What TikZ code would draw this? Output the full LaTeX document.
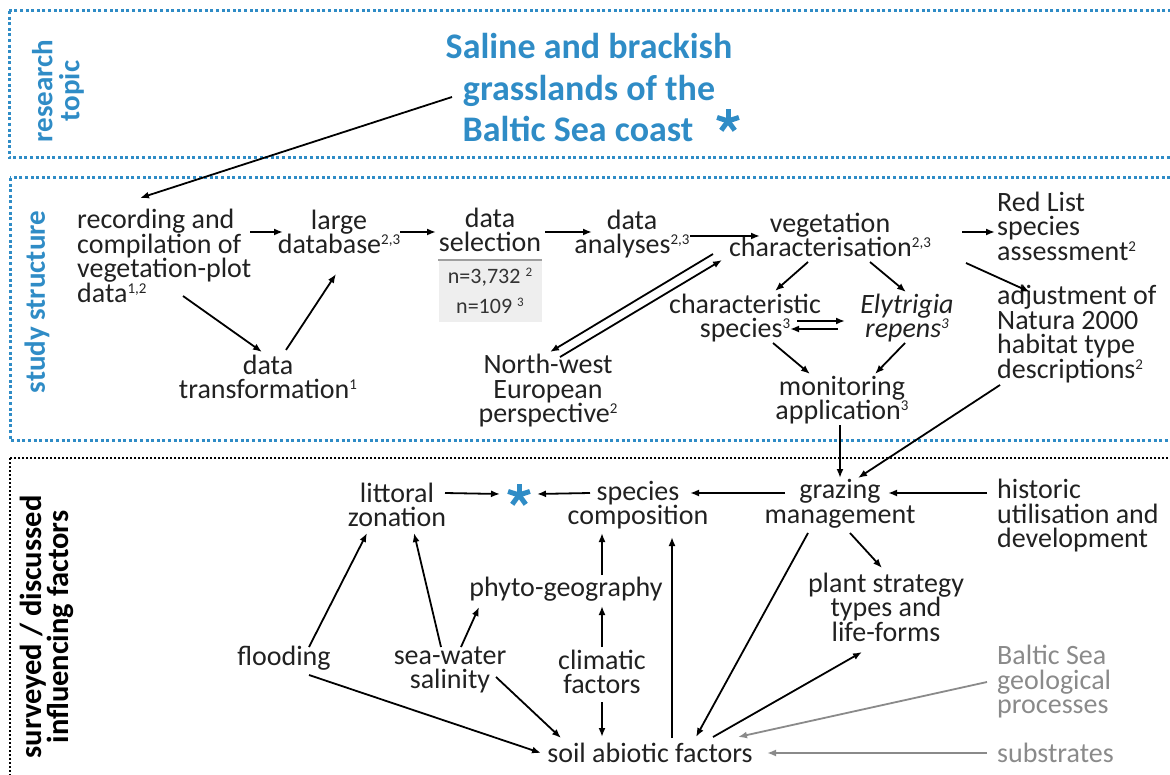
\documentclass[tikz,border=0pt]{standalone}
\usepackage{fontspec}
\setmainfont{Carlito}
\usetikzlibrary{arrows.meta,calc}
\definecolor{tblue}{HTML}{2F8CC6}
\definecolor{tgray}{HTML}{8A8A8A}
\definecolor{boxgray}{HTML}{EEEEEE}
\newcommand\sps[1]{\raisebox{9pt}{\fontsize{15}{15}\selectfont #1}}
\newcommand\spn[1]{\raisebox{7pt}{\fontsize{13}{13}\selectfont #1}}
\begin{document}
\begin{tikzpicture}[x=1pt,y=-1pt,
  txt/.style={font=\fontsize{28}{24.5}\selectfont, align=center, inner sep=0pt, text=black!87},
  ltxt/.style={txt, align=left, anchor=west},
  arr/.style={-{Latex[length=9pt,width=7pt]}, line width=1.8pt},
  garr/.style={arr, draw=tgray},
  bluedot/.style={draw=tblue, line width=3pt, dash pattern=on 3pt off 2.6pt},
  blackdot/.style={draw=black, line width=2pt, dash pattern=on 2pt off 2pt},
  sidelbl/.style={rotate=90, align=center, inner sep=0pt, font=\bfseries\fontsize{29}{27}\selectfont},
  astnode/.style={circle, minimum size=24pt, inner sep=0pt},
  astarm/.style={draw=tblue, line width=5pt}]
\useasboundingbox (0,0) rectangle (1170,775);

% section frames
\draw[bluedot] (9,11) rectangle (1185,158);
\draw[bluedot] (10,178) rectangle (1185,440);
\draw[blackdot] (10,458) rectangle (1185,800);

% side labels
\node[sidelbl, text=tblue] (lrt) at (58,91) {research\\topic};
\node[sidelbl, text=tblue] (lss) at (37,302) {study structure};
\node[sidelbl, text=black, font=\bfseries\fontsize{30.5}{27}\selectfont] (lsf) at (47,627) {surveyed / discussed\\influencing factors};

% title
\node[inner sep=0pt, align=center, text=tblue, font=\bfseries\fontsize{36}{41.5}\selectfont] (T) at (589,88) {Saline and brackish\\grasslands of the\\Baltic Sea coast\hspace*{22pt}};
\node[astnode] (tast) at (728,121) {};
\foreach \a in {-90,-18,54,126,198} \draw[astarm] (tast.center) -- ++(\a:11.5);

% study structure
\node[ltxt] (rec) at (77,256) {recording and\\compilation of\\vegetation-plot\\data\sps{1,2}};
\node[txt] (db) at (339,232) {large\\database\sps{2,3}};
\node[txt] (sel) at (490,230) {data\\selection};
\node[fill=boxgray, minimum width=103pt, minimum height=62pt, inner sep=0pt, align=center, text=black!80, font=\fontsize{22}{30}\selectfont] (nbox) at (490,291) {n=3,732 \spn{2}\\n=109 \spn{3}};
\draw[draw=gray!75, line width=2pt] (nbox.north west) -- (nbox.north east);
\node[txt] (ana) at (632,234) {data\\analyses\sps{2,3}};
\node[txt] (veg) at (830,235) {vegetation\\characterisation\sps{2,3}};
\node[ltxt] (red) at (997,226) {Red List\\species\\assessment\sps{2}};
\node[ltxt] (adj) at (997,334) {adjustment of\\Natura 2000\\habitat type\\descriptions\sps{2}};
\node[txt] (cs) at (745,318) {characteristic\\species\sps{3}};
\node[txt] (ely) at (907,318) {\itshape Elytrigia\\\itshape repens\sps{3}};
\node[txt] (mon) at (842,400) {monitoring\\application\sps{3}};
\node[txt] (nw) at (548,391) {North-west\\European\\perspective\sps{2}};
\node[txt] (tr) at (268,377) {data\\transformation\sps{1}};

\draw[arr] ([shift={(-137,9)}]T.center) -- ([shift={(63,-58)}]rec.west);
\draw[arr] ([shift={(173,-24)}]rec.west) -- ([shift={(-56,0)}]db.center);
\draw[arr] ([shift={(106,40)}]rec.west) -- ([shift={(-6,-25)}]tr.center);
\draw[arr] ([shift={(18,-27)}]tr.center) -- ([shift={(-3,42)}]db.center);
\draw[arr] ([shift={(61,0)}]db.center) -- ([shift={(-54,2)}]sel.center);
\draw[arr] ([shift={(55,2)}]sel.center) -- ([shift={(-40,-2)}]ana.center);
\draw[arr] ([shift={(58,2)}]ana.center) -- ([shift={(-70,1)}]veg.center);
\draw[arr] ([shift={(132,-3)}]veg.center) -- ([shift={(-2,6)}]red.west);
\draw[arr] ([shift={(136,28)}]veg.center) -- ([shift={(33,-42)}]adj.west);
\draw[arr] ([shift={(-22,27)}]veg.center) -- ([shift={(30,-27)}]cs.center);
\draw[arr] ([shift={(40,27)}]veg.center) -- ([shift={(-1,-26)}]ely.center);
\draw[arr] ([shift={(52,3)}]cs.center) -- ([shift={(-62,3)}]ely.center);
\draw[arr] ([shift={(-69,11)}]ely.center) -- ([shift={(45,11)}]cs.center);
\draw[arr] ([shift={(28,25)}]cs.center) -- ([shift={(-32,-26)}]mon.center);
\draw[arr] ([shift={(-2,25)}]ely.center) -- ([shift={(33,-26)}]mon.center);
\draw[arr] ([shift={(-117,19)}]veg.center) -- ([shift={(2,-39)}]nw.center);
\draw[arr] ([shift={(12,-34)}]nw.center) -- ([shift={(-108,25)}]veg.center);

% influencing factors
\node[txt] (lit) at (397,505) {littoral\\zonation};
\node[astnode] (star) at (519,495) {};
\foreach \a in {-90,-18,54,126,198} \draw[astarm] (star.center) -- ++(\a:11.5);
\node[txt] (sp) at (638,505) {species\\composition};
\node[txt] (gr) at (840,504) {grazing\\management};
\node[ltxt] (hist) at (997,516) {historic\\utilisation and\\development};
\node[txt] (phy) at (566,589) {phyto-geography};
\node[txt] (ps) at (886,607) {plant strategy\\types and\\life-forms};
\node[txt] (fl) at (284,658) {flooding};
\node[txt] (sw) at (450,670) {sea-water\\salinity};
\node[txt] (cl) at (602,672) {climatic\\factors};
\node[txt] (soil) at (650,753) {soil abiotic factors};
\node[ltxt, text=tgray] (bsg) at (997,682) {Baltic Sea\\geological\\processes};
\node[ltxt, text=tgray] (sub) at (997,753) {substrates};

\draw[arr] ([shift={(-2,25)}]mon.center) -- ([shift={(0,-26)}]gr.center);
\draw[arr] ([shift={(3,51)}]adj.west) -- ([shift={(18,-26)}]gr.center);
\draw[arr] ([shift={(-10,-23)}]hist.west) -- ([shift={(48,-11)}]gr.center);
\draw[arr] ([shift={(-55,-11)}]gr.center) -- ([shift={(52,-12)}]sp.center);
\draw[arr] ([shift={(-48,-12)}]sp.center) -- ([shift={(18,-1)}]star.center);
\draw[arr] ([shift={(48,-12)}]lit.center) -- ([shift={(-19,-1)}]star.center);
\draw[arr] ([shift={(36,-14)}]phy.center) -- ([shift={(-36,28)}]sp.center);
\draw[arr] ([shift={(0,-25)}]cl.center) -- ([shift={(36,17)}]phy.center);
\draw[arr] ([shift={(0,30)}]cl.center) -- ([shift={(-48,-16)}]soil.center);
\draw[arr] ([shift={(46,7)}]sw.center) -- ([shift={(-89,-15)}]soil.center);
\draw[arr] ([shift={(25,17)}]fl.center) -- ([shift={(-109,0)}]soil.center);
\draw[arr] ([shift={(25,-11)}]fl.center) -- ([shift={(-30,28)}]lit.center);
\draw[arr] ([shift={(-9,-23)}]sw.center) -- ([shift={(17,28)}]lit.center);
\draw[arr] ([shift={(11,-23)}]sw.center) -- ([shift={(-87,18)}]phy.center);
\draw[arr] ([shift={(22,-15)}]soil.center) -- ([shift={(34,32)}]sp.center);
\draw[arr] ([shift={(-32,29)}]gr.center) -- ([shift={(46,-16)}]soil.center);
\draw[arr] ([shift={(63,-16)}]soil.center) -- ([shift={(-24,45)}]ps.center);
\draw[arr] ([shift={(10,29)}]gr.center) -- ([shift={(-4,-39)}]ps.center);
\draw[garr] ([shift={(-10,0)}]bsg.west) -- ([shift={(88,-16)}]soil.center);
\draw[garr] ([shift={(-10,0)}]sub.west) -- ([shift={(117,0)}]soil.center);
\end{tikzpicture}
\end{document}
